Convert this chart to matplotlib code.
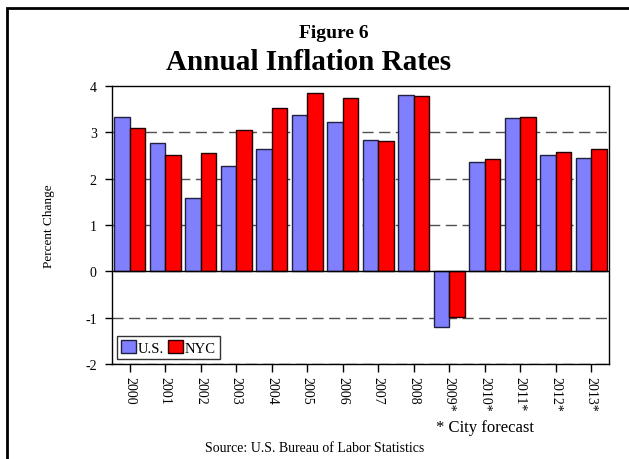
import numpy as np
import matplotlib
matplotlib.use("Agg")
import matplotlib.pyplot as plt
from matplotlib.patches import Rectangle

plt.rcParams['font.family'] = ['Liberation Serif', 'DejaVu Serif']

# data
years = ['2000', '2001', '2002', '2003', '2004', '2005', '2006', '2007',
         '2008', '2009*', '2010*', '2011*', '2012*', '2013*']
us = [3.34, 2.78, 1.58, 2.27, 2.65, 3.38, 3.22, 2.83, 3.80, -1.20, 2.37, 3.32, 2.51, 2.44]
nyc = [3.10, 2.51, 2.56, 3.05, 3.52, 3.84, 3.74, 2.81, 3.78, -0.99, 2.42, 3.33, 2.58, 2.63]
yticks = [-2, -1, 0, 1, 2, 3, 4]

fig = plt.figure(figsize=(6.29, 4.60), dpi=100)
ax = fig.add_axes([112 / 629, 1 - 365 / 460, 497 / 629, 278 / 460])

x = np.arange(len(years))
w = 0.43
ax.bar(x - w / 2, us, w, color='#8080ff', edgecolor='#202040', linewidth=1.0,
       label='U.S.', zorder=3)
ax.bar(x + w / 2, nyc, w, color='#ff0000', edgecolor='#200000', linewidth=1.0,
       label='NYC', zorder=3)

for yv in [-2, -1, 1, 2, 3]:
    ax.axhline(yv, color='#505050', linestyle=(0, (8, 4)), linewidth=1.0, zorder=1)
ax.axhline(0, color='black', linewidth=1.0, zorder=4)

ax.set_xlim(-0.5, len(years) - 0.5)
ax.set_ylim(-2, 4)
ax.set_yticks(yticks)
ax.set_yticklabels([str(v) for v in yticks], fontsize=10)
ax.set_xticks(x)
ax.set_xticklabels(years, rotation=270, fontsize=10)
ax.tick_params(axis='x', direction='out', length=6, width=1, pad=3)
ax.tick_params(axis='y', direction='out', length=5, width=1, pad=6)
for s in ax.spines.values():
    s.set_linewidth(1.0)

ax.set_ylabel('Percent Change', fontsize=9.5, labelpad=22)

leg = ax.legend(loc='lower left', ncol=2, fontsize=10.5, frameon=True,
                fancybox=False, edgecolor='black', handlelength=1.0,
                handleheight=0.9, handletextpad=0.1, columnspacing=0.3,
                borderpad=0.3, borderaxespad=0.35)
leg.get_frame().set_linewidth(1.0)

fig.text(334 / 629, 1 - 33 / 460, 'Figure 6', ha='center', va='center',
         fontsize=14, fontweight='bold')
fig.text(309 / 629, 1 - 62 / 460, 'Annual Inflation Rates', ha='center',
         va='center', fontsize=21, fontweight='bold')
fig.text(485 / 629, 1 - 428 / 460, '* City forecast', ha='center',
         va='center', fontsize=12)
fig.text(315 / 629, 1 - 449 / 460, 'Source: U.S. Bureau of Labor Statistics',
         ha='center', va='center', fontsize=10)

# outer frame: only top and left edges are inside the picture
fig.patches.append(Rectangle((7 / 629, -0.1), 1.2, 1 - 9 / 460 + 0.1,
                             transform=fig.transFigure, fill=False,
                             edgecolor='black', linewidth=2.0))

fig.savefig('out.png', dpi=100)
